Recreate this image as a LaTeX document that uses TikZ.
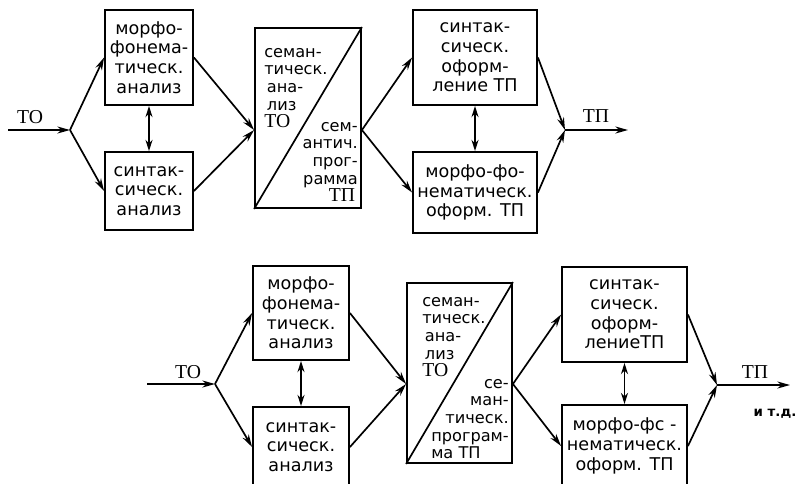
\documentclass[tikz,border=0pt]{standalone}
\usepackage{fontspec}
\setmainfont{DejaVu Sans}
\newfontfamily\labelfont{Liberation Serif}
\newcommand\serlbl[1]{{\labelfont\fontsize{14}{12.5}\selectfont #1}}
\usetikzlibrary{arrows.meta}
\tikzset{
  box/.style={draw, line width=1.3pt, align=center, inner sep=2pt, font=\fontsize{12.5}{14}\selectfont},
  txt/.style={align=center, inner sep=0pt, font=\fontsize{11.5}{12.5}\selectfont},
  arr/.style={line width=1.2pt, -{Stealth[length=9pt,width=5pt]}},
  darr/.style={line width=1.2pt, {Stealth[length=8pt,width=5pt]}-{Stealth[length=8pt,width=5pt]}},
  lbl/.style={font=\labelfont\fontsize{14}{16}\selectfont, inner sep=0pt}
}

\begin{document}
\begin{tikzpicture}[x=0.025cm,y=-0.025cm]
\useasboundingbox (0,0) rectangle (800,483);
\clip (0,0) rectangle (800,483);
% upper chain
\coordinate (in1) at (8,130);
\coordinate (sp1) at (70,130);
\node[box, minimum width=2.2cm, minimum height=2.375cm] (mf1) at (149,57.5) {морфо-\\фонема-\\тическ.\\анализ};
\node[box, minimum width=2.2cm, minimum height=1.95cm] (sa1) at (149,191) {синтак-\\сическ.\\анализ};
\node[box, minimum width=2.65cm, minimum height=4.5cm] (se1) at (308,118) {};
\draw[line width=1.2pt] (se1.south west) -- (se1.north east);
\node[txt, align=left, anchor=west] (se1a) at (264,88) {семан-\\тическ.\\ \,ана-\\ \,лиз\\\serlbl{ТО}};
\node[txt, align=right, anchor=east] (se1b) at (358,162) {сем-\\антич.\\прог-\\рамма\\\serlbl{ТП}\,};
\node[box, minimum width=3.1cm, minimum height=2.375cm] (so1) at (475,57.5) {синтак-\\сическ.\\оформ-\\ление ТП};
\node[box, minimum width=3.1cm, minimum height=2.025cm] (mo1) at (475,192.5) {морфо-фо-\\нематическ.\\оформ. ТП};
\coordinate (mg1) at (565,130);
\coordinate (out1) at (628,130);
\node[lbl] (to1) at (30,117) {ТО};
\node[lbl] (tp1) at (596,116) {ТП};
\draw[arr] (in1) -- (sp1);
\draw[arr] (sp1) -- (mf1.west);
\draw[arr] (sp1) -- (sa1.west);
\draw[darr] (mf1.south) -- (sa1.north);
\draw[arr] (mf1.east) -- (se1.west |- sp1);
\draw[arr] (sa1.east) -- (se1.west |- sp1);
\draw[arr] (se1.east |- sp1) -- (so1.west);
\draw[arr] (se1.east |- sp1) -- (mo1.west);
\draw[darr] (so1.south) -- (mo1.north);
\draw[arr] (so1.east) -- (mg1);
\draw[arr] (mo1.east) -- (mg1);
\draw[arr] (mg1) -- (out1);
% lower chain
\coordinate (in2) at (147,384);
\coordinate (sp2) at (215,384);
\node[box, minimum width=2.4cm, minimum height=2.35cm] (mf2) at (301,313) {морфо-\\фонема-\\тическ.\\анализ};
\node[box, minimum width=2.4cm, minimum height=2cm] (sa2) at (301,447) {синтак-\\сическ.\\анализ};
\node[box, minimum width=2.625cm, minimum height=4.5cm] (se2) at (459.5,373) {};
\draw[line width=1.2pt] (se2.south west) -- (se2.north east);
\node[txt, align=left, anchor=west] (se2a) at (422,337) {семан-\\тическ.\\ \,ана-\\ \,лиз\\\serlbl{ТО}};
\node[txt, anchor=east] (se2b) at (509,420) {\begin{tabular}{@{}r@{}}се-\\ман-\\тическ.\\програм-\\\multicolumn{1}{@{}l@{}}{ма ТП}\end{tabular}};
\node[box, minimum width=3.125cm, minimum height=2.375cm] (so2) at (624.5,314.5) {синтак-\\сическ.\\оформ-\\лениеТП};
\node[box, minimum width=3.125cm, minimum height=2.05cm] (mo2) at (624.5,446) {морфо-фс -\\нематическ.\\оформ. ТП};
\coordinate (mg2) at (717,385);
\coordinate (out2) at (790,385);
\node[lbl] (to2) at (188,372) {ТО};
\node[lbl] (tp2) at (755,372) {ТП};
\node[txt, font=\bfseries\fontsize{9.5}{12}\selectfont] (etc2) at (775,414) {и т.д.};
\draw[arr] (in2) -- (sp2);
\draw[arr] (sp2) -- (mf2.west);
\draw[arr] (sp2) -- (sa2.west);
\draw[darr] (mf2.south) -- (sa2.north);
\draw[arr] (mf2.east) -- (se2.west |- sp2);
\draw[arr] (sa2.east) -- (se2.west |- sp2);
\draw[arr] (se2.east |- sp2) -- (so2.west);
\draw[arr] (se2.east |- sp2) -- (mo2.west);
\draw[darr] (so2.south) -- (mo2.north);
\draw[arr] (so2.east) -- (mg2);
\draw[arr] (mo2.east) -- (mg2);
\draw[arr] (mg2) -- (out2);
\end{tikzpicture}
\end{document}
